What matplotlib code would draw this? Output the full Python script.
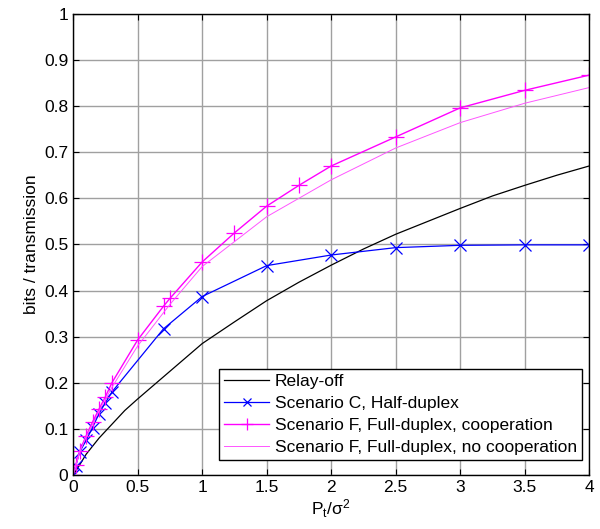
import numpy as np
import matplotlib.pyplot as plt

plt.rcParams['font.family'] = ['Liberation Sans', 'DejaVu Sans']
plt.rcParams['mathtext.fontset'] = 'custom'
plt.rcParams['mathtext.rm'] = 'Liberation Sans'
plt.rcParams['mathtext.it'] = 'Liberation Sans'

# relay off (black)
x_off = [0, 0.05, 0.1, 0.2, 0.3, 0.4, 0.5, 0.75, 1.0, 1.25, 1.5, 1.75, 2.0,
         2.25, 2.5, 2.75, 3.0, 3.25, 3.5, 3.75, 4.0]
y_off = [0, 0.022, 0.045, 0.08, 0.11, 0.14, 0.165, 0.225, 0.285, 0.332, 0.378,
         0.418, 0.455, 0.49, 0.522, 0.55, 0.578, 0.605, 0.628, 0.65, 0.67]

# scenario C half-duplex (blue)
x_hd = [0, 0.02, 0.05, 0.1, 0.15, 0.2, 0.25, 0.3, 0.7, 1.0, 1.5, 2.0, 2.5,
        3.0, 3.5, 4.0]
y_hd = [0, 0.02, 0.05, 0.075, 0.103, 0.133, 0.157, 0.18, 0.317, 0.387, 0.454,
        0.477, 0.493, 0.498, 0.499, 0.499]

# scenario F full-duplex cooperation (magenta, markers)
x_co = [0, 0.02, 0.05, 0.1, 0.15, 0.2, 0.25, 0.3, 0.5, 0.7, 0.75, 1.0, 1.25,
        1.5, 1.75, 2.0, 2.5, 3.0, 3.5, 4.0]
y_co = [0, 0.022, 0.052, 0.085, 0.115, 0.143, 0.17, 0.2, 0.293, 0.366, 0.383,
        0.462, 0.525, 0.583, 0.628, 0.67, 0.733, 0.796, 0.834, 0.867]

# scenario F full-duplex no cooperation (light magenta)
x_nc = [0, 0.05, 0.1, 0.2, 0.3, 0.5, 0.75, 1.0, 1.5, 2.0, 2.5, 3.0, 3.5, 4.0]
y_nc = [0, 0.05, 0.082, 0.138, 0.19, 0.28, 0.37, 0.452, 0.56, 0.64, 0.709,
        0.764, 0.806, 0.84]

fig = plt.figure(figsize=(6, 5.29), dpi=100)
ax = fig.add_axes([0.122, 0.102, 0.860, 0.872])

ax.plot(x_off, y_off, color='k', lw=0.9, label='Relay-off')
ax.plot(x_hd, y_hd, color='#0000ff', lw=0.9, marker='x', ms=8, mew=0.9,
        label='Scenario C, Half-duplex')
ax.plot(x_co, y_co, color='#ff00ff', lw=1.0, marker='+', ms=12, mew=0.9,
        label='Scenario F, Full-duplex, cooperation')
ax.plot(x_nc, y_nc, color='#ff55ff', lw=0.7,
        label='Scenario F, Full-duplex, no cooperation')

ax.set_xlim(0, 4)
ax.set_ylim(0, 1)
ax.set_xticks(np.arange(0, 4.01, 0.5))
ax.set_xticklabels(['0', '0.5', '1', '1.5', '2', '2.5', '3', '3.5', '4'])
ax.set_yticks(np.arange(0, 1.01, 0.1))
ax.set_yticklabels(['0', '0.1', '0.2', '0.3', '0.4', '0.5', '0.6', '0.7',
                    '0.8', '0.9', '1'])
ax.tick_params(direction='in', top=True, right=True, labelsize=12.5, length=4)
ax.grid(True, color='#a0a0a0', lw=1, ls='-')
ax.set_axisbelow(True)
for s in ax.spines.values():
    s.set_linewidth(1.0)

ax.set_xlabel(r'P$_\mathregular{t}$/$\mathregular{\sigma^2}$', fontsize=12.5, labelpad=2)
ax.set_ylabel('bits / transmission', fontsize=12.5, labelpad=4)

leg = ax.legend(loc='lower right', bbox_to_anchor=(0.986, 0.033),
                borderaxespad=0, fontsize=12.5, handlelength=2.6,
                fancybox=False, framealpha=1, edgecolor='k',
                labelspacing=0.38, borderpad=0.3,
                handletextpad=0.3, markerscale=0.7)
leg.get_frame().set_linewidth(1.0)

fig.savefig('out.png', dpi=100)
